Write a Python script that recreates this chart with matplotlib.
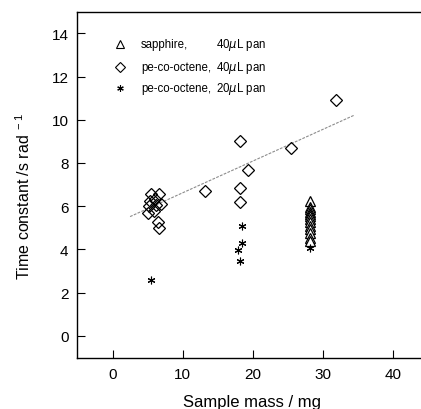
import matplotlib
matplotlib.use("Agg")
import matplotlib.pyplot as plt

plt.rcParams['font.family'] = ['Liberation Sans', 'DejaVu Sans']
plt.rcParams['mathtext.default'] = 'regular'

# sapphire, 40 uL pan
saph_x = [28.2] * 13
saph_y = [6.25, 5.95, 5.85, 5.75, 5.65, 5.55, 5.4, 5.25, 5.1, 4.95, 4.75, 4.55, 4.4]

# pe-co-octene, 40 uL pan
pe40_x = [5.5, 6.55, 5.4, 6.1, 5.25, 6.2, 6.85, 5.1, 5.9, 6.45, 6.55,
          13.2, 18.2, 18.2, 18.2, 19.3, 25.5, 31.8]
pe40_y = [6.55, 6.55, 6.24, 6.32, 6.0, 6.04, 6.09, 5.7, 5.78, 5.27, 5.0,
          6.69, 9.02, 6.84, 6.19, 7.66, 8.68, 10.9]

# pe-co-octene, 20 uL pan
pe20_x = [5.5, 18.5, 18.5, 17.9, 18.2, 28.2]
pe20_y = [2.58, 5.08, 4.28, 3.97, 3.46, 4.08]

# linear fit through the 40 uL data
fit_x = [2.5, 34.5]
fit_y = [5.52, 10.22]

xticks = [0, 10, 20, 30, 40]
yticks = [0, 2, 4, 6, 8, 10, 12, 14]

star = (6, 2, 0)

fig = plt.figure(figsize=(4.21, 4.10), dpi=100)
# axes run a little past the right edge of the figure
ax = fig.add_axes([0.184, 0.1256, 0.83, 0.8434])

ax.plot(fit_x, fit_y, color='0.55', linewidth=0.8, linestyle=(0, (2.5, 1.2)), zorder=1)
ax.plot(saph_x, saph_y, linestyle='none', marker='^', ms=7, mfc='white', mec='black', mew=0.9, zorder=3)
ax.plot(pe40_x, pe40_y, linestyle='none', marker='D', ms=6.3, mfc='none', mec='black', mew=0.9, zorder=3)
ax.plot(pe20_x, pe20_y, linestyle='none', marker=star, ms=5.5, mec='black', mew=0.8, zorder=4)

ax.set_xlim(-5, 44.8)
ax.set_ylim(-1, 15)
ax.set_xticks(xticks)
ax.set_yticks(yticks)
ax.tick_params(direction='in', length=5.5, width=0.8, labelsize=11, pad=6.5)
for s in ax.spines.values():
    s.set_linewidth(1.0)

ax.set_xlabel('Sample mass / mg', fontsize=12, labelpad=10)
ax.set_ylabel('Time constant /s rad$^{\\ -1}$', fontsize=11.5)
ax.yaxis.set_label_coords(-0.126, 0.47)

# legend drawn by hand so the two text columns line up
leg_rows = [0.9057, 0.841, 0.7785]
leg_markers = [('^', 7, 'white'), ('D', 6.3, 'none'), (star, 5.5, 'black')]
leg_names = ['sapphire,', 'pe-co-octene,', 'pe-co-octene,']
leg_pans = ['40$\\mathit{\\mu}$L pan', '40$\\mathit{\\mu}$L pan', '20$\\mathit{\\mu}$L pan']
for yy, (m, ms, fc), name, pan in zip(leg_rows, leg_markers, leg_names, leg_pans):
    ax.plot([0.1225], [yy], transform=ax.transAxes, marker=m, ms=ms * 0.85, mfc=fc,
            mec='black', mew=0.8, linestyle='none')
    ax.text(0.182, yy, name, transform=ax.transAxes, fontsize=8.3, va='center')
    ax.text(0.397, yy, pan, transform=ax.transAxes, fontsize=8.3, va='center')

fig.savefig('out.png', dpi=100)
